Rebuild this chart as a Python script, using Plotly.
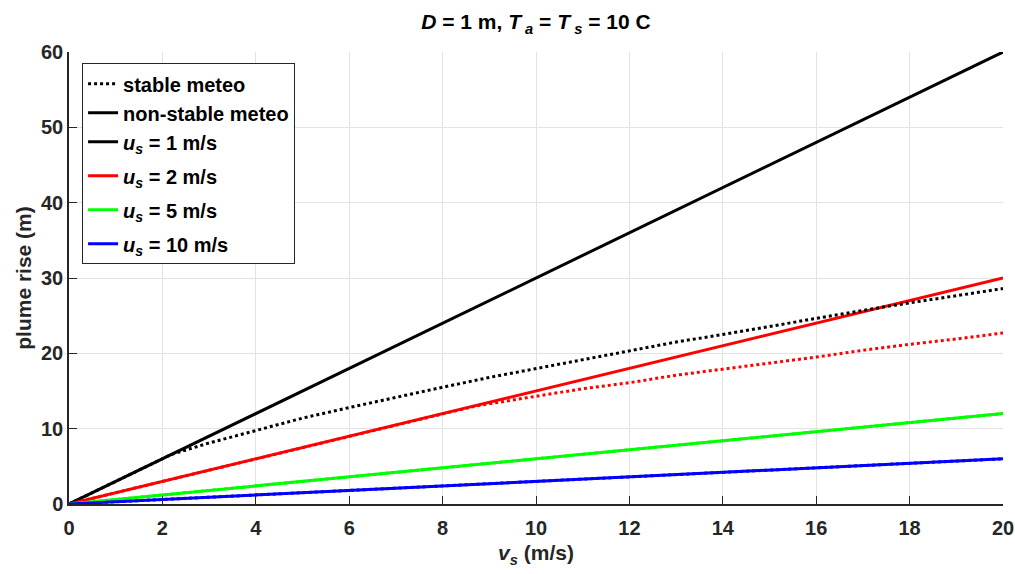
import plotly.graph_objects as go

# stack exit velocity (m/s)
vs = [0, 1, 2, 3, 4, 5, 6, 7, 8, 9, 10, 11, 12, 13, 14, 15, 16, 17, 18, 19, 20]

# non-stable meteo plume rise (m)
ns_u1 = [0, 3, 6, 9, 12, 15, 18, 21, 24, 27, 30, 33, 36, 39, 42, 45, 48, 51, 54, 57, 60]
ns_u2 = [0, 1.5, 3, 4.5, 6, 7.5, 9, 10.5, 12, 13.5, 15, 16.5, 18, 19.5, 21, 22.5, 24, 25.5, 27, 28.5, 30]
ns_u5 = [0, 0.6, 1.2, 1.8, 2.4, 3, 3.6, 4.2, 4.8, 5.4, 6, 6.6, 7.2, 7.8, 8.4, 9, 9.6, 10.2, 10.8, 11.4, 12]
ns_u10 = [0, 0.3, 0.6, 0.9, 1.2, 1.5, 1.8, 2.1, 2.4, 2.7, 3, 3.3, 3.6, 3.9, 4.2, 4.5, 4.8, 5.1, 5.4, 5.7, 6]

# stable meteo plume rise (m)
st_u1_x = [0, 1, 2, 2.2, 3, 4, 5, 6, 7, 8, 9, 10, 11, 12, 13, 14, 15, 16, 17, 18, 19, 20]
st_u1 = [0, 3, 6, 6.6, 8.1, 9.8, 11.4, 12.8, 14.2, 15.5, 16.8, 18.0, 19.2, 20.3, 21.5, 22.5, 23.6, 24.6, 25.7, 26.7, 27.6, 28.6]
st_u2_x = [0, 8.7, 9, 10, 11, 12, 13, 14, 15, 16, 17, 18, 19, 20]
st_u2 = [0, 13.0, 13.3, 14.3, 15.3, 16.1, 17.1, 17.9, 18.7, 19.5, 20.4, 21.2, 21.9, 22.7]
st_u5 = ns_u5
st_u10 = ns_u10

labels = ["<i>u</i><sub><i>s</i></sub> = 1 m/s", "<i>u</i><sub><i>s</i></sub> = 2 m/s",
          "<i>u</i><sub><i>s</i></sub> = 5 m/s", "<i>u</i><sub><i>s</i></sub> = 10 m/s"]
colors = ["#000000", "#ff0000", "#00ff00", "#0000ff"]
groups = ["g1", "g2", "g3", "g4"]

FONT = "Liberation Sans, Arial, sans-serif"
fig = go.Figure()

# legend-only style entries
fig.add_trace(go.Scatter(x=[None], y=[None], mode="lines", name="stable meteo", legendgroup="g1",
                         line=dict(color="black", width=3, dash="dot")))
fig.add_trace(go.Scatter(x=[None], y=[None], mode="lines", name="non-stable meteo", legendgroup="g1",
                         line=dict(color="black", width=3)))

for ys, lab, c, g in zip([ns_u1, ns_u2, ns_u5, ns_u10], labels, colors, groups):
    fig.add_trace(go.Scatter(x=vs, y=ys, mode="lines", name=lab, legendgroup=g,
                             line=dict(color=c, width=3)))

for xs, ys, c in zip([st_u1_x, st_u2_x, vs, vs], [st_u1, st_u2, st_u5, st_u10], colors):
    fig.add_trace(go.Scatter(x=xs, y=ys, mode="lines", showlegend=False,
                             line=dict(color=c, width=3, dash="dot")))

fig.update_layout(
    width=1015, height=574,
    margin=dict(l=69, r=12, t=52, b=70),
    paper_bgcolor="white", plot_bgcolor="white",
    font=dict(family=FONT, size=20, color="#262626", weight="bold"),
    title=dict(text="<i>D</i> = 1 m, <i>T</i><sub> <i>a</i></sub> = <i>T</i><sub> <i>s</i></sub> = 10 C",
               x=0.528, xanchor="center", y=0.962, yanchor="middle",
               font=dict(size=21, color="black", weight="bold")),
    xaxis=dict(range=[0, 20], dtick=2, showgrid=True, gridcolor="#e3e3e3", gridwidth=1,
               showline=True, linecolor="#262626", linewidth=1.5, ticks="inside", ticklen=8,
               tickcolor="#262626", zeroline=False, tickfont=dict(size=20), automargin=False,
               ticklabelstandoff=5,
               title=dict(text="<i>v</i><sub><i>s</i></sub> (m/s)", font=dict(size=21), standoff=8)),
    yaxis=dict(range=[0, 60], dtick=10, showgrid=True, gridcolor="#e3e3e3", gridwidth=1,
               showline=True, linecolor="#262626", linewidth=1.5, ticks="inside", ticklen=8,
               tickcolor="#262626", zeroline=False, tickfont=dict(size=20), automargin=False,
               title=dict(text="plume rise (m)", font=dict(size=21), standoff=4)),
    legend=dict(x=0.014, y=0.975, xanchor="left", yanchor="top",
                bgcolor="white", bordercolor="#262626", borderwidth=1,
                font=dict(size=20, color="black", weight="bold"), tracegroupgap=5,
                itemwidth=30),
    showlegend=True,
)

fig.write_html("out.html", config={"displayModeBar": False},
               post_script="document.body.style.margin='0px';")
